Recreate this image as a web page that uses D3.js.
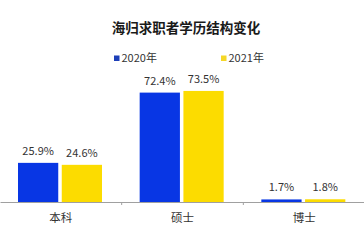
<!DOCTYPE html>
<html>
<head>
<meta charset="utf-8">
<script src="https://cdn.jsdelivr.net/npm/d3@7"></script>
<style>
  body { margin: 0; background: #fff; }
  svg { display: block; font-family: "Noto Sans CJK SC", "Noto Sans", sans-serif; }
</style>
</head>
<body>
<svg id="svg" width="364" height="245"></svg>
<script>
var categories = ["本科", "硕士", "博士"];
var seriesNames = ["2020年", "2021年"];
var values2020 = [25.9, 72.4, 1.7];
var values2021 = [24.6, 73.5, 1.8];
var colors = ["#0836e4", "#fcdc00"];

var svg = d3.select("#svg");
var baseY = 202;

var data = categories.map(function(c, i) {
    return { cat: c, vals: [values2020[i], values2021[i]] };
});

var xScale = d3.scaleBand()
    .domain(categories)
    .range([0, 365]);

var x1 = d3.scaleBand()
    .domain(seriesNames)
    .range([18, 102])
    .paddingInner(0.08);

var yScale = d3.scaleLinear()
    .domain([0, 100])
    .range([baseY, baseY - 151.1]);

// title
svg.append("text")
    .attr("x", 186).attr("y", 33)
    .attr("text-anchor", "middle")
    .attr("font-size", 13.5).attr("font-weight", "bold")
    .attr("fill", "#1a1a1a")
    .text("海归求职者学历结构变化");

// legend
var legendX = [114, 221];
seriesNames.forEach(function(s, i) {
    svg.append("rect")
        .attr("x", legendX[i]).attr("y", 55.5)
        .attr("width", 5.5).attr("height", 5.5)
        .attr("fill", i == 0 ? "#1d3fb8" : "#f5d726");
    svg.append("text")
        .attr("x", legendX[i] + 7.5).attr("y", 62)
        .attr("font-size", 11).attr("fill", "#333")
        .text(s);
});

// x axis
var xAxis = svg.append("g")
    .attr("transform", "translate(0," + baseY + ")")
    .call(d3.axisBottom(xScale).tickSize(0).tickFormat(""));
xAxis.select(".domain").attr("stroke", "#a0a0a0");
[1, 2].forEach(function(i) {
    xAxis.append("line")
        .attr("x1", xScale(categories[i])).attr("x2", xScale(categories[i]))
        .attr("y1", 0).attr("y2", 3)
        .attr("stroke", "#a0a0a0");
});

svg.selectAll(".cat").data(categories).enter()
    .append("text")
    .attr("x", function(d) { return xScale(d) + xScale.bandwidth() / 2; })
    .attr("y", 222)
    .attr("text-anchor", "middle")
    .attr("font-size", 11.5).attr("fill", "#333")
    .text(function(d) { return d; });

// bars
var groups = svg.selectAll(".grp").data(data).enter()
    .append("g")
    .attr("transform", function(d) { return "translate(" + xScale(d.cat) + ",0)"; });

groups.selectAll("rect").data(function(d) { return d.vals; }).enter()
    .append("rect")
    .attr("x", function(d, i) { return x1(seriesNames[i]); })
    .attr("width", x1.bandwidth())
    .attr("y", function(d) { return Math.min(yScale(d), baseY - 2.5); })
    .attr("height", function(d) { return Math.max(baseY - yScale(d), 2.5); })
    .attr("fill", function(d, i) { return colors[i]; });

groups.selectAll(".lbl").data(function(d) { return d.vals; }).enter()
    .append("text")
    .attr("x", function(d, i) { return x1(seriesNames[i]) + x1.bandwidth() / 2; })
    .attr("y", function(d) { return yScale(d) - 8; })
    .attr("text-anchor", "middle")
    .attr("font-size", 11).attr("fill", "#333")
    .text(function(d) { return d.toFixed(1) + "%"; });
</script>
</body>
</html>
